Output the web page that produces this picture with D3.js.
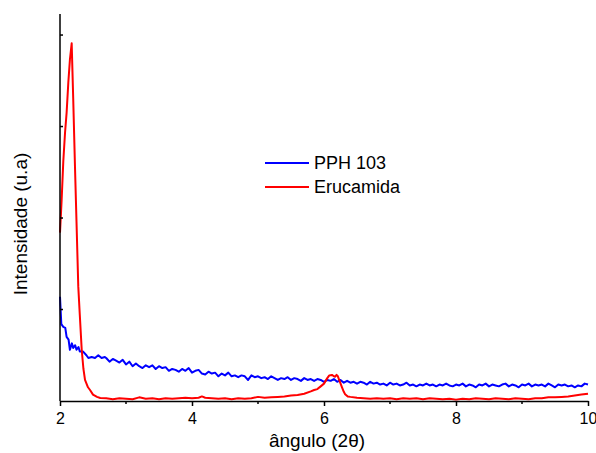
<!DOCTYPE html>
<html>
<head>
<meta charset="utf-8">
<script src="https://cdn.jsdelivr.net/npm/d3@7"></script>
<style>
	body { margin: 0; background: #fff; }
	text { font-family: "Liberation Sans", Arial, sans-serif; fill: #000; }
	.axis line, .axis path { stroke: #000; stroke-width: 1.5; }
</style>
</head>
<body>
<div id="viz"></div>
<script>
// x ticks (2theta) and y ticks (unlabelled intensity marks)
xTicks = [2, 4, 6, 8, 10];
xMinor = [3, 5, 7, 9];
yTicks = [100, 200, 300, 400];

seriesNames = ['PPH 103', 'Erucamida'];
colors = ['#0000ff', '#ff0000'];

// [angle, intensity]
pph = [
	[2.00,114],[2.02,84],[2.05,81],[2.08,80],[2.10,70],[2.13,67],[2.15,56],[2.18,63],[2.20,58],
	[2.23,61],[2.25,56],[2.28,59],[2.30,54],[2.35,54],[2.40,50],[2.43,47],[2.48,48],[2.53,47],
	[2.58,50],[2.63,47],[2.68,48],
	[2.70,47],[2.75,43],[2.80,46],[2.85,44],[2.90,42],[2.95,45],[3.00,40],[3.05,43],[3.10,38],
	[3.15,41],[3.20,38],[3.25,36],[3.30,39],[3.35,37],[3.40,39],[3.45,35],[3.50,38],[3.55,36],
	[3.60,37],[3.65,33],[3.70,35],[3.75,34],[3.80,32],[3.85,35],[3.90,33],[3.95,36],[4.00,31],
	[4.05,33],[4.10,34],[4.15,30],[4.20,29],[4.25,32],[4.30,30],[4.35,31],[4.40,27],[4.45,30],
	[4.50,28],[4.55,31],[4.60,27],[4.65,28],[4.70,26],[4.75,28],[4.80,27],[4.85,23],[4.90,28],
	[4.95,26],[5.00,27],[5.05,25],[5.10,26],[5.15,24],[5.20,27],[5.25,25],[5.30,23],[5.35,25],
	[5.40,24],[5.45,26],[5.50,23],[5.55,25],[5.60,24],[5.65,22],[5.70,25],[5.75,23],[5.80,24],
	[5.85,22],[5.90,24],[5.95,23],[6.00,21],[6.05,23],[6.10,22],[6.15,24],[6.20,21],[6.25,23],
	[6.30,20],[6.35,22],[6.40,20],[6.45,21],[6.50,19],[6.55,21],[6.60,20],[6.65,18],[6.70,21],
	[6.75,19],[6.80,20],[6.85,18],[6.90,19],[6.95,17],[7.00,20],[7.05,18],[7.10,19],[7.15,17],
	[7.20,18],[7.25,20],[7.30,17],[7.35,18],[7.40,16],[7.45,18],[7.50,17],[7.55,19],[7.60,17],
	[7.65,18],[7.70,16],[7.75,18],[7.80,17],[7.85,19],[7.90,17],[7.95,16],[8.00,18],[8.05,17],
	[8.10,19],[8.15,16],[8.20,18],[8.25,17],[8.30,15],[8.35,18],[8.40,17],[8.45,19],[8.50,16],
	[8.55,18],[8.60,17],[8.65,16],[8.70,18],[8.75,19],[8.80,16],[8.85,18],[8.90,17],[8.95,15],
	[9.00,18],[9.05,17],[9.10,19],[9.15,16],[9.20,18],[9.25,17],[9.30,18],[9.35,16],[9.40,19],
	[9.45,17],[9.50,15],[9.55,18],[9.60,17],[9.65,18],[9.70,16],[9.75,17],[9.80,15],[9.85,17],
	[9.90,16],[9.95,19],[10.00,18]
];

erucamida = [
	[2.00,184],[2.025,220],[2.05,262],[2.076,293],[2.10,315],[2.126,348],[2.15,373],[2.177,391],
	[2.20,331],[2.227,256],[2.25,196],[2.277,125],[2.30,94],[2.329,56],[2.355,35],[2.379,23],
	[2.424,15],[2.455,12],[2.50,7],[2.56,4.5],[2.61,3.3],
	[2.70,3],[2.80,2],[2.90,3],[3.00,2.5],[3.10,2],[3.20,4],[3.30,2.5],[3.40,3],[3.50,2],
	[3.60,3],[3.70,2.5],[3.80,3],[3.90,3.5],[4.00,3],[4.10,3.5],[4.15,5],[4.20,3.5],[4.30,3],
	[4.40,2.5],[4.50,3],[4.60,2],[4.70,3],[4.80,2.5],[4.90,3],[5.00,4.5],[5.10,3.5],[5.20,4],
	[5.30,4.5],[5.40,5],[5.50,6],[5.60,6.5],[5.70,8],[5.80,10.5],[5.85,12],[5.90,13],[5.95,16],
	[6.00,19],[6.05,25],[6.08,28],[6.12,28.5],[6.15,27],[6.17,26.5],[6.19,28.5],[6.21,27],
	[6.23,23],[6.27,15.5],[6.30,10],[6.32,7.5],[6.36,5],[6.40,4.5],[6.50,3.5],[6.60,3],[6.70,2.5],
	[6.80,3],[6.90,2.5],[7.00,3],[7.10,2],[7.20,3],[7.30,2.5],[7.40,3],[7.50,2],[7.60,3],
	[7.70,2.5],[7.80,2],[7.90,2.5],[8.00,1.5],[8.10,2.5],[8.20,2],[8.30,3],[8.40,2.5],[8.50,2],
	[8.60,3],[8.70,2.5],[8.80,2],[8.90,3],[9.00,2.5],[9.10,2],[9.20,3],[9.30,3],[9.40,4],
	[9.50,4],[9.60,4.5],[9.70,5],[9.80,6],[9.90,7],[10.00,8]
];

width = 596;
height = 453;
margin = {top: 14, right: 8, bottom: 52, left: 60};

xScale = d3.scaleLinear()
	.domain([2, 10])
	.range([margin.left, width - margin.right]);

yScale = d3.scaleLinear()
	.domain([0, 423])
	.range([height - margin.bottom, margin.top]);

svg = d3.select('#viz').append('svg')
	.attr('width', width)
	.attr('height', height);

// data lines
line = d3.line()
	.x(d => xScale(d[0]))
	.y(d => yScale(d[1]));

[pph, erucamida].forEach(function(s, i) {
	svg.append('path')
		.datum(s)
		.attr('fill', 'none')
		.attr('stroke', colors[i])
		.attr('stroke-width', 2)
		.attr('stroke-linejoin', 'round')
		.attr('d', line);
});

// x axis: major + minor ticks pointing out
xAxis = svg.append('g')
	.attr('class', 'axis')
	.attr('transform', 'translate(0,' + yScale(0) + ')')
	.call(d3.axisBottom(xScale).tickValues(xTicks).tickSize(5).tickSizeOuter(0).tickPadding(7));
xAxis.selectAll('text')
	.style('font-size', '16px')
	.style('font-family', '"Liberation Sans", Arial, sans-serif');

svg.append('g')
	.attr('class', 'axis')
	.selectAll('line')
	.data(xMinor)
	.enter()
	.append('line')
	.attr('x1', d => xScale(d))
	.attr('x2', d => xScale(d))
	.attr('y1', yScale(0))
	.attr('y2', yScale(0) + 3);

// y axis: plain line with inward ticks, no labels
svg.append('line')
	.attr('x1', xScale(2))
	.attr('x2', xScale(2))
	.attr('y1', yScale(423))
	.attr('y2', yScale(0))
	.attr('stroke', '#000')
	.attr('stroke-width', 1.5);

svg.append('g')
	.selectAll('line')
	.data(yTicks)
	.enter()
	.append('line')
	.attr('x1', xScale(2))
	.attr('x2', xScale(2) + 3)
	.attr('y1', d => yScale(d))
	.attr('y2', d => yScale(d))
	.attr('stroke', '#000')
	.attr('stroke-width', 1.5);

// axis titles
svg.append('text')
	.attr('x', 317)
	.attr('y', 447)
	.attr('text-anchor', 'middle')
	.style('font-size', '19px')
	.text('ângulo (2θ)');

svg.append('text')
	.attr('transform', 'translate(27,224) rotate(-90)')
	.attr('text-anchor', 'middle')
	.style('font-size', '19px')
	.text('Intensidade (u.a)');

// legend
legend = svg.selectAll('g.legend')
	.data(seriesNames)
	.enter()
	.append('g')
	.attr('class', 'legend')
	.attr('transform', function(d, i) { return 'translate(265,' + (163 + i * 24) + ')'; });

legend.append('line')
	.attr('x1', 0)
	.attr('x2', 44)
	.attr('stroke', (d, i) => colors[i])
	.attr('stroke-width', 2);

legend.append('text')
	.attr('x', 49)
	.attr('y', 6)
	.style('font-size', '18px')
	.text(d => d);
</script>
</body>
</html>
